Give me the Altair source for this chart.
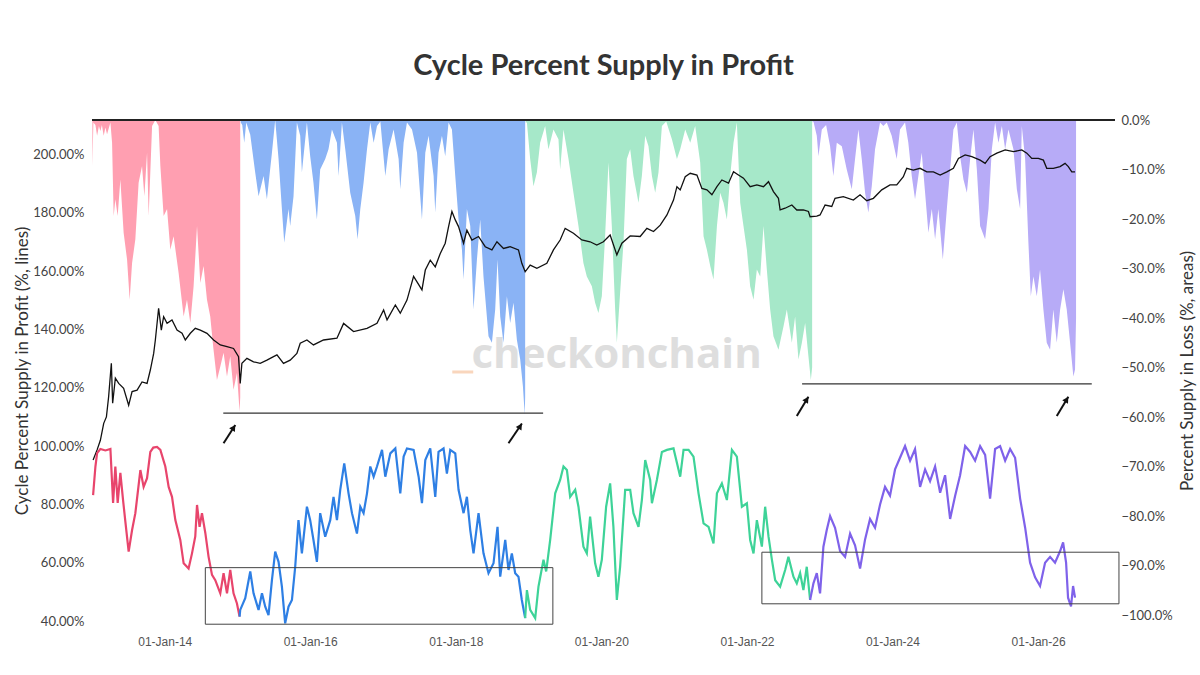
import altair as alt
import pandas as pd

# ---------------------------------------------------------------
# Percent supply in loss (right axis, %), one list per cycle.
# Each entry: (decimal year, value)
# ---------------------------------------------------------------
LOSS_C1 = [
    (2013.005, -9.3), (2013.019, -0.5), (2013.047, -1.0), (2013.070, -3.2), (2013.095, -1.2),
    (2013.115, -2.2), (2013.136, -1.0), (2013.161, -3.2), (2013.184, -1.5), (2013.207, -2.9),
    (2013.253, -0.5), (2013.276, -4.6), (2013.298, -19.4), (2013.321, -16.0), (2013.353, -19.4),
    (2013.390, -12.0), (2013.435, -22.8), (2013.482, -28.2), (2013.518, -36.3), (2013.551, -28.9),
    (2013.596, -24.1), (2013.641, -12.7), (2013.688, -9.3), (2013.720, -15.4), (2013.757, -6.6),
    (2013.779, -19.4), (2013.826, -1.2), (2013.871, 0.0), (2013.916, -1.2), (2013.940, -9.3),
    (2013.985, -19.4), (2014.032, -18.0), (2014.077, -26.2), (2014.122, -23.5), (2014.191, -30.9),
    (2014.260, -39.7), (2014.306, -36.3), (2014.352, -41.0), (2014.397, -33.6), (2014.444, -21.4),
    (2014.489, -32.9), (2014.534, -29.5), (2014.581, -36.3), (2014.626, -39.7), (2014.668, -46.0),
    (2014.718, -52.5), (2014.764, -49.8), (2014.809, -47.0), (2014.856, -51.8), (2014.901, -47.7),
    (2014.946, -54.5), (2014.993, -51.1), (2015.029, -58.9), (2015.038, -56.0),
]
LOSS_C2 = [
    (2015.045, -0.5), (2015.066, -1.0), (2015.093, -4.6), (2015.121, -0.5), (2015.176, -3.0),
    (2015.244, -10.6), (2015.290, -15.4), (2015.359, -11.3), (2015.405, -16.0), (2015.474, -6.6),
    (2015.519, 0.0), (2015.565, -7.9), (2015.611, -18.0), (2015.643, -24.8), (2015.702, -18.0),
    (2015.725, -21.4), (2015.771, -15.4), (2015.817, -0.5), (2015.863, -3.2), (2015.886, -10.6),
    (2015.955, -0.5), (2016.000, -7.3), (2016.045, -12.7), (2016.092, -20.1), (2016.137, -10.0),
    (2016.206, -7.9), (2016.251, -5.9), (2016.298, -1.9), (2016.367, -4.6), (2016.389, -11.3),
    (2016.435, -0.5), (2016.481, -5.9), (2016.549, -14.7), (2016.618, -19.4), (2016.650, -24.1),
    (2016.687, -18.0), (2016.732, -12.7), (2016.779, -5.9), (2016.824, -0.5), (2016.870, -4.6),
    (2016.916, -1.2), (2016.962, -0.3), (2017.030, -11.3), (2017.076, -5.9), (2017.144, -1.9),
    (2017.213, -7.9), (2017.236, -14.0), (2017.282, -4.6), (2017.328, -0.5), (2017.397, -1.9),
    (2017.466, -6.6), (2017.534, -20.1), (2017.580, -6.6), (2017.625, -3.2), (2017.694, -11.3),
    (2017.717, -18.7), (2017.762, -6.6), (2017.809, -3.2), (2017.854, -7.3), (2017.900, -0.5),
    (2017.946, -1.9), (2017.992, -11.3), (2018.037, -20.1), (2018.084, -26.2), (2018.106, -32.2),
    (2018.152, -18.0), (2018.198, -21.4), (2018.243, -38.3), (2018.290, -28.2), (2018.335, -20.1),
    (2018.380, -31.6), (2018.449, -43.7), (2018.496, -45.0), (2018.541, -38.3), (2018.573, -28.2),
    (2018.610, -39.7), (2018.655, -45.0), (2018.702, -35.6), (2018.747, -41.0), (2018.793, -36.9),
    (2018.839, -44.4), (2018.885, -48.4), (2018.922, -53.8), (2018.947, -59.5), (2018.953, -56.0),
]
LOSS_C3 = [
    (2018.960, -0.5), (2018.977, -0.5), (2019.022, -7.9), (2019.067, -13.4), (2019.114, -10.6),
    (2019.159, -4.6), (2019.228, -1.2), (2019.273, -5.9), (2019.342, -1.9), (2019.411, -3.9),
    (2019.434, -10.0), (2019.480, -1.9), (2019.549, -7.9), (2019.617, -14.7), (2019.686, -21.4),
    (2019.754, -28.9), (2019.801, -31.6), (2019.870, -33.6), (2019.915, -36.9), (2019.960, -39.0),
    (2020.007, -35.6), (2020.052, -23.5), (2020.098, -8.6), (2020.144, -21.4), (2020.190, -38.3),
    (2020.213, -45.0), (2020.258, -34.9), (2020.304, -24.8), (2020.350, -7.9), (2020.396, -5.9),
    (2020.441, -11.3), (2020.510, -16.7), (2020.556, -11.3), (2020.602, -3.2), (2020.647, -5.3),
    (2020.694, -11.3), (2020.739, -14.7), (2020.784, -10.6), (2020.831, -1.2), (2020.890, -0.3),
    (2020.968, -3.9), (2021.037, -7.9), (2021.082, -5.9), (2021.151, -1.9), (2021.220, -4.6),
    (2021.288, -1.2), (2021.357, -8.6), (2021.403, -23.5), (2021.449, -26.2), (2021.495, -29.5),
    (2021.540, -32.2), (2021.587, -21.4), (2021.632, -14.7), (2021.677, -16.7), (2021.724, -20.1),
    (2021.769, -11.3), (2021.815, -4.6), (2021.861, -0.5), (2021.907, -16.7), (2021.952, -21.4),
    (2021.999, -26.2), (2022.044, -33.6), (2022.090, -36.3), (2022.136, -30.2), (2022.182, -31.6),
    (2022.227, -21.4), (2022.273, -30.2), (2022.319, -38.3), (2022.364, -43.7), (2022.433, -46.4),
    (2022.502, -41.7), (2022.548, -38.3), (2022.617, -45.0), (2022.662, -39.7), (2022.708, -48.4),
    (2022.755, -45.0), (2022.800, -41.0), (2022.845, -47.7), (2022.878, -52.5), (2022.896, -50.0),
]
LOSS_C4 = [
    (2022.903, -0.5), (2022.914, -0.3), (2022.960, -3.2), (2022.983, -7.3), (2023.029, -1.9),
    (2023.088, -1.0), (2023.143, -5.3), (2023.188, -11.3), (2023.235, -4.6), (2023.304, -5.3),
    (2023.372, -10.0), (2023.441, -14.0), (2023.486, -7.9), (2023.532, -1.9), (2023.578, -7.9),
    (2023.624, -14.7), (2023.669, -18.7), (2023.716, -13.4), (2023.761, -5.9), (2023.830, -0.5),
    (2023.875, -1.2), (2023.922, -0.5), (2023.990, -3.2), (2024.059, -7.9), (2024.104, -1.9),
    (2024.173, -0.5), (2024.218, -4.6), (2024.265, -11.3), (2024.310, -16.0), (2024.356, -11.3),
    (2024.402, -6.6), (2024.448, -14.7), (2024.493, -22.8), (2024.540, -18.0), (2024.585, -24.1),
    (2024.630, -18.0), (2024.691, -28.2), (2024.746, -18.0), (2024.791, -10.0), (2024.836, -1.9),
    (2024.883, -0.5), (2024.928, -7.3), (2024.974, -12.0), (2025.021, -14.7), (2025.066, -7.9),
    (2025.111, -1.9), (2025.158, -10.0), (2025.203, -21.4), (2025.272, -24.1), (2025.318, -18.0),
    (2025.364, -5.9), (2025.409, -0.5), (2025.455, -4.6), (2025.502, -1.2), (2025.547, -5.9),
    (2025.592, -1.9), (2025.661, -5.9), (2025.708, -14.0), (2025.753, -18.0), (2025.776, -1.2),
    (2025.822, -7.9), (2025.867, -24.8), (2025.900, -35.6), (2025.936, -31.6), (2025.982, -35.6),
    (2026.027, -30.2), (2026.073, -38.3), (2026.119, -45.0), (2026.165, -46.4), (2026.210, -38.3),
    (2026.257, -45.0), (2026.303, -38.3), (2026.348, -34.2), (2026.394, -38.3), (2026.440, -45.0),
    (2026.485, -51.8), (2026.508, -50.4), (2026.522, -40.0),
]

# ---------------------------------------------------------------
# Cycle percent supply in profit (left axis, %), one list per cycle
# ---------------------------------------------------------------
PROFIT_C1 = [
    (2013.015, 83.2), (2013.047, 93.0), (2013.070, 97.6), (2013.115, 99.0), (2013.184, 98.5),
    (2013.253, 99.0), (2013.290, 80.5), (2013.321, 93.0), (2013.353, 80.5), (2013.390, 90.8),
    (2013.427, 81.5), (2013.459, 74.0), (2013.504, 63.8), (2013.551, 71.2), (2013.596, 77.0),
    (2013.665, 91.8), (2013.710, 86.0), (2013.757, 89.0), (2013.802, 98.0), (2013.843, 99.5),
    (2013.894, 99.7), (2013.940, 98.7), (2014.008, 93.0), (2014.054, 86.0), (2014.100, 82.6),
    (2014.146, 74.6), (2014.214, 67.8), (2014.260, 59.8), (2014.328, 58.0), (2014.375, 63.2),
    (2014.420, 69.0), (2014.444, 79.8), (2014.479, 72.3), (2014.512, 77.0), (2014.558, 70.2),
    (2014.603, 62.0), (2014.650, 55.8), (2014.695, 54.0), (2014.764, 49.5), (2014.809, 56.4),
    (2014.856, 49.5), (2014.901, 57.5), (2014.946, 49.5), (2014.993, 46.0), (2015.029, 41.5),
]
PROFIT_C2 = [
    (2015.029, 41.5), (2015.038, 43.8), (2015.107, 47.8), (2015.176, 57.0), (2015.221, 49.5),
    (2015.290, 43.8), (2015.337, 49.5), (2015.382, 44.9), (2015.427, 42.0), (2015.474, 54.0),
    (2015.519, 63.8), (2015.565, 60.3), (2015.611, 51.8), (2015.656, 39.2), (2015.702, 44.9),
    (2015.749, 47.2), (2015.794, 58.6), (2015.839, 74.6), (2015.886, 63.2), (2015.955, 79.2),
    (2016.000, 74.6), (2016.045, 67.8), (2016.092, 60.3), (2016.137, 77.0), (2016.206, 68.9),
    (2016.275, 74.6), (2016.320, 82.6), (2016.367, 74.6), (2016.412, 85.0), (2016.467, 94.1),
    (2016.526, 83.8), (2016.573, 77.0), (2016.641, 70.0), (2016.687, 79.2), (2016.732, 77.0),
    (2016.779, 83.8), (2016.824, 93.0), (2016.870, 89.5), (2016.916, 93.0), (2016.985, 98.7),
    (2017.030, 89.5), (2017.099, 97.5), (2017.168, 99.2), (2017.236, 83.8), (2017.282, 96.4),
    (2017.328, 99.2), (2017.419, 98.7), (2017.488, 89.5), (2017.534, 80.4), (2017.580, 95.2),
    (2017.648, 99.2), (2017.717, 82.6), (2017.762, 98.0), (2017.831, 99.2), (2017.877, 90.6),
    (2017.923, 98.7), (2017.992, 97.5), (2018.037, 85.0), (2018.106, 77.0), (2018.152, 82.6),
    (2018.198, 71.2), (2018.243, 63.2), (2018.312, 77.0), (2018.380, 63.2), (2018.449, 56.4),
    (2018.518, 59.8), (2018.573, 72.3), (2018.610, 55.2), (2018.679, 67.8), (2018.724, 57.5),
    (2018.770, 63.2), (2018.816, 56.4), (2018.861, 55.2), (2018.907, 47.2), (2018.953, 41.0),
]
PROFIT_C3 = [
    (2018.953, 41.0), (2018.977, 50.6), (2019.022, 43.8), (2019.091, 41.0), (2019.136, 51.8),
    (2019.205, 61.0), (2019.242, 57.0), (2019.297, 67.8), (2019.366, 83.8), (2019.434, 88.4),
    (2019.480, 93.0), (2019.527, 91.8), (2019.572, 82.6), (2019.641, 85.0), (2019.686, 79.2),
    (2019.754, 65.5), (2019.801, 63.2), (2019.846, 75.8), (2019.915, 59.8), (2019.960, 55.2),
    (2020.007, 61.0), (2020.066, 79.2), (2020.121, 87.2), (2020.166, 72.3), (2020.213, 47.2),
    (2020.258, 58.6), (2020.327, 85.0), (2020.396, 85.0), (2020.441, 77.0), (2020.510, 72.3),
    (2020.556, 81.5), (2020.602, 95.2), (2020.670, 88.4), (2020.694, 80.4), (2020.762, 88.4),
    (2020.831, 98.0), (2020.900, 98.7), (2020.990, 99.2), (2021.082, 89.5), (2021.128, 98.7),
    (2021.197, 98.7), (2021.265, 96.4), (2021.334, 83.8), (2021.403, 73.5), (2021.472, 72.3),
    (2021.540, 66.6), (2021.587, 83.8), (2021.655, 87.2), (2021.724, 81.5), (2021.793, 98.7),
    (2021.861, 96.4), (2021.930, 79.2), (2021.999, 80.4), (2022.044, 67.8), (2022.090, 63.2),
    (2022.136, 74.6), (2022.205, 65.5), (2022.250, 79.2), (2022.296, 69.0), (2022.343, 61.0),
    (2022.388, 54.0), (2022.456, 51.8), (2022.525, 57.5), (2022.570, 62.0), (2022.639, 55.2),
    (2022.685, 52.9), (2022.731, 56.4), (2022.776, 50.6), (2022.822, 58.6), (2022.868, 47.2),
]
PROFIT_C4 = [
    (2022.868, 47.2), (2022.914, 52.9), (2022.960, 56.4), (2023.005, 49.5), (2023.051, 65.5),
    (2023.097, 71.2), (2023.143, 76.0), (2023.211, 72.0), (2023.280, 64.0), (2023.349, 62.0),
    (2023.418, 70.0), (2023.486, 66.0), (2023.555, 58.0), (2023.624, 68.0), (2023.692, 75.0),
    (2023.761, 72.0), (2023.830, 80.0), (2023.898, 86.0), (2023.967, 83.0), (2024.036, 92.0),
    (2024.104, 96.0), (2024.173, 100.0), (2024.242, 95.0), (2024.310, 99.0), (2024.379, 86.0),
    (2024.448, 92.0), (2024.516, 88.0), (2024.585, 93.0), (2024.654, 84.0), (2024.722, 90.0),
    (2024.791, 75.0), (2024.860, 83.0), (2024.928, 90.0), (2024.997, 100.0), (2025.066, 98.0),
    (2025.134, 95.0), (2025.203, 100.0), (2025.272, 97.0), (2025.340, 82.0), (2025.409, 99.0),
    (2025.478, 100.0), (2025.547, 95.0), (2025.615, 99.0), (2025.684, 96.0), (2025.753, 82.0),
    (2025.822, 72.0), (2025.890, 60.0), (2025.959, 55.0), (2026.027, 52.0), (2026.096, 60.0),
    (2026.165, 62.0), (2026.233, 60.0), (2026.303, 64.0), (2026.344, 67.0), (2026.385, 60.0),
    (2026.412, 48.0), (2026.453, 45.0), (2026.481, 52.0), (2026.508, 48.0),
]

# Black line (left axis, %)
BLACK = [
    (2013.015, 95.2), (2013.070, 98.7), (2013.115, 102.0), (2013.161, 107.8), (2013.198, 110.0),
    (2013.229, 117.0), (2013.266, 128.4), (2013.284, 114.7), (2013.321, 123.3), (2013.367, 121.5),
    (2013.435, 119.8), (2013.504, 114.0), (2013.551, 118.7), (2013.620, 119.2), (2013.688, 122.0),
    (2013.757, 121.5), (2013.802, 126.1), (2013.848, 131.8), (2013.871, 136.4), (2013.916, 147.3),
    (2013.953, 139.8), (2013.985, 144.4), (2014.032, 142.1), (2014.100, 143.3), (2014.169, 139.8),
    (2014.238, 138.7), (2014.283, 136.4), (2014.352, 138.7), (2014.420, 140.4), (2014.489, 139.8),
    (2014.581, 138.7), (2014.672, 136.4), (2014.764, 134.7), (2014.856, 134.1), (2014.946, 133.5),
    (2015.015, 130.7), (2015.038, 121.5), (2015.061, 128.4), (2015.130, 130.1), (2015.221, 128.9),
    (2015.313, 128.4), (2015.405, 129.5), (2015.496, 130.7), (2015.543, 131.3), (2015.633, 128.4),
    (2015.725, 129.5), (2015.817, 131.8), (2015.863, 135.3), (2015.955, 136.4), (2016.045, 134.7),
    (2016.183, 136.4), (2016.367, 137.0), (2016.458, 142.1), (2016.595, 139.3), (2016.779, 140.4),
    (2016.916, 142.1), (2017.007, 146.7), (2017.054, 143.3), (2017.168, 148.4), (2017.236, 145.6),
    (2017.328, 150.1), (2017.419, 158.2), (2017.534, 153.6), (2017.580, 160.4), (2017.648, 163.8),
    (2017.717, 161.5), (2017.786, 166.1), (2017.854, 169.6), (2017.900, 175.3), (2017.946, 180.5),
    (2017.992, 177.6), (2018.037, 175.3), (2018.106, 169.6), (2018.152, 174.1), (2018.221, 170.7),
    (2018.312, 171.9), (2018.404, 168.4), (2018.496, 167.3), (2018.565, 170.1), (2018.655, 167.8),
    (2018.747, 168.4), (2018.861, 167.3), (2018.907, 162.7), (2018.953, 159.8), (2019.022, 162.1),
    (2019.114, 161.0), (2019.251, 162.7), (2019.342, 167.3), (2019.434, 170.7), (2019.503, 174.7),
    (2019.617, 173.0), (2019.732, 170.7), (2019.846, 170.1), (2019.938, 169.0), (2020.029, 170.1),
    (2020.121, 172.4), (2020.213, 165.6), (2020.282, 169.6), (2020.396, 172.1), (2020.533, 171.9),
    (2020.625, 174.7), (2020.716, 173.6), (2020.808, 175.8), (2020.900, 179.3), (2020.990, 184.4),
    (2021.037, 189.0), (2021.082, 187.9), (2021.151, 192.4), (2021.220, 193.6), (2021.312, 193.0),
    (2021.380, 188.4), (2021.449, 187.9), (2021.518, 186.2), (2021.587, 189.0), (2021.655, 191.3),
    (2021.746, 190.2), (2021.815, 194.1), (2021.883, 193.0), (2021.952, 191.9), (2022.044, 189.0),
    (2022.136, 189.6), (2022.227, 189.0), (2022.296, 190.7), (2022.364, 187.3), (2022.433, 185.0),
    (2022.456, 181.0), (2022.524, 181.6), (2022.617, 182.7), (2022.685, 181.0), (2022.776, 181.0),
    (2022.845, 180.5), (2022.868, 178.7), (2022.960, 178.9), (2023.005, 179.3), (2023.074, 182.7),
    (2023.166, 182.2), (2023.211, 185.0), (2023.325, 185.6), (2023.463, 184.4), (2023.555, 186.2),
    (2023.647, 184.2), (2023.738, 185.0), (2023.853, 187.9), (2023.967, 189.6), (2024.059, 189.6),
    (2024.150, 192.4), (2024.196, 195.3), (2024.287, 194.7), (2024.379, 195.3), (2024.471, 194.1),
    (2024.562, 194.1), (2024.654, 193.0), (2024.746, 194.1), (2024.836, 195.3), (2024.905, 198.7),
    (2024.997, 199.9), (2025.089, 199.3), (2025.203, 198.1), (2025.272, 197.0), (2025.340, 199.3),
    (2025.433, 200.5), (2025.547, 201.6), (2025.661, 201.0), (2025.776, 201.6), (2025.845, 200.5),
    (2025.913, 198.7), (2026.004, 198.7), (2026.073, 198.1), (2026.119, 195.3), (2026.210, 195.3),
    (2026.302, 195.9), (2026.371, 197.0), (2026.416, 195.9), (2026.463, 194.1), (2026.508, 194.1),
]

# Cycle colours: (area fill, line stroke)
CYCLE_COLORS = [
    ("#ff9fb1", "#e8456c"),
    ("#8ab3f5", "#2e7fe4"),
    ("#a6e8c9", "#3ed398"),
    ("#b7abf7", "#7f62ea"),
]

# Annotations
LOW_LEVELS = [  # (start year, end year, loss %)
    (2014.805, 2019.200, -59.2),
    (2022.758, 2026.738, -53.3),
]
ARROWS = [  # (tail year, tail %, head year, head %) on the loss axis
    (2014.809, -65.3, 2014.970, -61.6),
    (2018.724, -65.3, 2018.908, -61.3),
    (2022.685, -59.8, 2022.845, -55.9),
    (2026.257, -59.8, 2026.416, -55.9),
]
BOXES = [  # (start year, end year, low %, high %) on the profit axis
    (2014.558, 2019.334, 38.9, 58.3),
    (2022.205, 2027.112, 45.9, 63.6),
]
WATERMARK = (2020.21, -50.1)
WATERMARK_BAR = (2017.951, 2018.239, -50.9)

X_START = (2013, 1, 1)
X_END = (2027, 1, 22)
TICK_YEARS = [2014, 2016, 2018, 2020, 2022, 2024, 2026]
LEFT_TICKS = [40, 60, 80, 100, 120, 140, 160, 180, 200]
RIGHT_TICKS = [0, -10, -20, -30, -40, -50, -60, -70, -80, -90, -100]


def year_to_ts(y):
    yr = int(y)
    start = pd.Timestamp(yr, 1, 1)
    end = pd.Timestamp(yr + 1, 1, 1)
    return start + (end - start) * (y - yr)


def series(points):
    df = pd.DataFrame(points, columns=["year", "v"])
    df["t"] = df["year"].map(year_to_ts)
    return df[["t", "v"]]


FONT = "Lato"

x_enc = alt.X(
    "t:T",
    title=None,
    scale=alt.Scale(domain=[alt.DateTime(year=X_START[0], month=X_START[1], date=X_START[2]),
                            alt.DateTime(year=X_END[0], month=X_END[1], date=X_END[2])]),
    axis=alt.Axis(
        values=[alt.DateTime(year=y, month=1, date=1) for y in TICK_YEARS],
        format="%d-%b-%y", labelFont="Liberation Sans", labelFontSize=12,
        labelColor="#555555", domain=False, ticks=False, grid=False, labelPadding=15,
    ),
)

y_loss = alt.Y(
    "v:Q",
    stack=None,
    scale=alt.Scale(domain=[-101.2, 0], nice=False, zero=False),
    axis=alt.Axis(
        orient="right", values=RIGHT_TICKS,
        labelExpr="format(datum.value, '.1f') + '%'",
        labelFont=FONT, labelFontSize=13, labelColor="#444444", labelPadding=6,
        domain=False, ticks=False, grid=False,
        title="Percent Supply in Loss (%, areas)", titleFont=FONT, titleFontSize=17,
        titleFontWeight="normal", titleColor="#333333", titleAngle=270,
        titleX=72, titleY=250.5, titleBaseline="middle",
    ),
)

y_profit = alt.Y(
    "v:Q",
    scale=alt.Scale(domain=[40, 211.87], nice=False, zero=False),
    axis=alt.Axis(
        orient="left", values=LEFT_TICKS,
        labelExpr="format(datum.value, '.2f') + '%'",
        labelFont=FONT, labelFontSize=13, labelColor="#444444", labelPadding=8,
        domain=False, ticks=False, grid=False,
        title="Cycle Percent Supply in Profit (%, lines)", titleFont=FONT, titleFontSize=17,
        titleFontWeight="normal", titleColor="#333333", titleAngle=270,
        titleX=-70, titleY=250.5, titleBaseline="middle",
    ),
)

# ---------------- loss-axis group ----------------
wm_df = pd.DataFrame({"t": [year_to_ts(WATERMARK[0])], "v": [WATERMARK[1]]})
watermark = alt.Chart(wm_df).mark_text(
    text="checkonchain", font="Open Sans", fontWeight="bold", fontSize=42,
    color="#dedede", baseline="alphabetic", align="center",
).encode(x=x_enc, y=y_loss)

wm_bar_df = pd.DataFrame({"t": [year_to_ts(WATERMARK_BAR[0])],
                          "t2": [year_to_ts(WATERMARK_BAR[1])],
                          "v": [WATERMARK_BAR[2]]})
watermark_bar = alt.Chart(wm_bar_df).mark_rule(color="#f9d6bd", strokeWidth=3).encode(
    x=x_enc, x2="t2:T", y=y_loss)

loss_layers = []
for pts, (fill, _) in zip([LOSS_C1, LOSS_C2, LOSS_C3, LOSS_C4], CYCLE_COLORS):
    loss_layers.append(
        alt.Chart(series(pts)).mark_area(color=fill, opacity=1).encode(
            x=x_enc, y=y_loss, y2=alt.datum(0))
    )

top_df = pd.DataFrame({"t": [pd.Timestamp(*X_START)], "t2": [pd.Timestamp(*X_END)], "v": [0]})
top_line = alt.Chart(top_df).mark_rule(color="#222222", strokeWidth=2).encode(
    x=x_enc, x2="t2:T", y=y_loss)

lv_df = pd.DataFrame({
    "t": [year_to_ts(a) for a, _, _ in LOW_LEVELS],
    "t2": [year_to_ts(b) for _, b, _ in LOW_LEVELS],
    "v": [c for _, _, c in LOW_LEVELS],
})
low_lines = alt.Chart(lv_df).mark_rule(color="#333333", strokeWidth=1.2).encode(
    x=x_enc, x2="t2:T", y=y_loss)

ar_df = pd.DataFrame({
    "t": [year_to_ts(a[0]) for a in ARROWS],
    "v": [a[1] for a in ARROWS],
    "t2": [year_to_ts(a[2]) for a in ARROWS],
    "v2": [a[3] for a in ARROWS],
})
arrow_shafts = alt.Chart(ar_df).mark_rule(color="#111111", strokeWidth=2).encode(
    x=x_enc, x2="t2:T", y=y_loss, y2="v2:Q")
head_df = ar_df[["t2", "v2"]].rename(columns={"t2": "t", "v2": "v"})
arrow_heads = alt.Chart(head_df).mark_point(
    shape="M0,0L-0.55,1L0.55,1Z", filled=True, size=150, angle=32,
    color="#111111", opacity=1, strokeWidth=0,
).encode(x=x_enc, y=y_loss)

loss_group = alt.layer(watermark, watermark_bar, *loss_layers, top_line, low_lines,
                       arrow_shafts, arrow_heads)

# ---------------- profit-axis group ----------------
black_line = alt.Chart(series(BLACK)).mark_line(color="#111111", strokeWidth=1.3).encode(
    x=x_enc, y=y_profit)

profit_layers = []
for pts, (_, stroke) in zip([PROFIT_C1, PROFIT_C2, PROFIT_C3, PROFIT_C4], CYCLE_COLORS):
    profit_layers.append(
        alt.Chart(series(pts)).mark_line(color=stroke, strokeWidth=2.2).encode(
            x=x_enc, y=y_profit)
    )

box_df = pd.DataFrame({
    "t": [year_to_ts(b[0]) for b in BOXES],
    "t2": [year_to_ts(b[1]) for b in BOXES],
    "v": [b[2] for b in BOXES],
    "v2": [b[3] for b in BOXES],
})
boxes = alt.Chart(box_df).mark_rect(fillOpacity=0, stroke="#444444", strokeWidth=1).encode(
    x=x_enc, x2="t2:T", y=y_profit, y2="v2:Q")

profit_group = alt.layer(black_line, *profit_layers, boxes)

chart = alt.layer(loss_group, profit_group).resolve_scale(y="independent").properties(
    width=1023,
    height=501,
    padding={"left": 92, "top": 120, "right": 85, "bottom": 54},
    autosize=alt.AutoSizeParams(type="none"),
    background="white",
    title=alt.TitleParams(
        "Cycle Percent Supply in Profit", font=FONT, fontSize=29, fontWeight="bold",
        color="#333333", anchor="middle", baseline="alphabetic", offset=10,
    ),
).configure_view(stroke=None)

chart.save("out.html", embed_options={"renderer": "svg", "actions": False})
